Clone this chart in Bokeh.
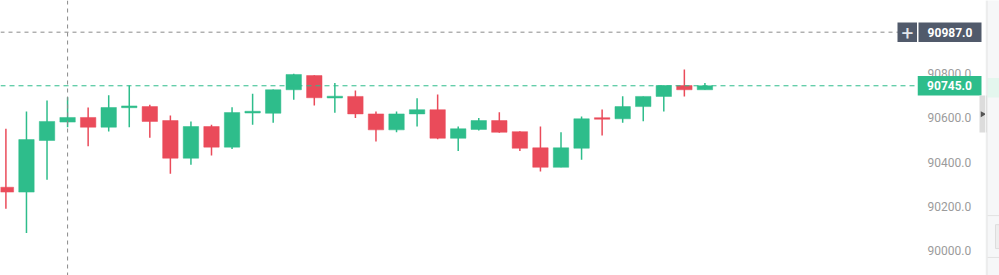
from bokeh.plotting import figure
from bokeh.models import Range1d, Span, Label, BoxAnnotation, ColumnDataSource
from bokeh.core.properties import value
from bokeh.layouts import row
from bokeh.embed import file_html
from bokeh.resources import INLINE

# ---- data ----
opens = [90287, 90265, 90498, 90581, 90602, 90558, 90646, 90651, 90588, 90418,
         90561, 90468, 90622, 90621, 90727, 90791, 90690, 90697, 90618, 90546,
         90618, 90637, 90508, 90548, 90588, 90538, 90465, 90377, 90463, 90601,
         90596, 90651, 90697, 90746, 90727]
highs = [90551, 90629, 90679, 90693, 90647, 90702, 90746, 90659, 90611, 90584,
         90569, 90648, 90709, 90728, 90799, 90793, 90757, 90724, 90629, 90629,
         90689, 90706, 90561, 90599, 90626, 90540, 90561, 90535, 90606, 90638,
         90698, 90697, 90746, 90818, 90757]
lows = [90190, 90080, 90321, 90558, 90472, 90539, 90558, 90510, 90348, 90388,
        90430, 90460, 90569, 90578, 90682, 90656, 90623, 90600, 90493, 90535,
        90561, 90504, 90450, 90543, 90533, 90450, 90358, 90377, 90411, 90521,
        90578, 90585, 90629, 90697, 90727]
closes = [90265, 90502, 90584, 90602, 90558, 90647, 90654, 90584, 90418, 90561,
          90468, 90624, 90630, 90727, 90796, 90691, 90698, 90618, 90546, 90618,
          90637, 90508, 90551, 90588, 90535, 90463, 90377, 90465, 90596, 90594,
          90651, 90697, 90746, 90727, 90745]
tick_values = [90000, 90200, 90400, 90600, 90800]
tick_labels = [f"{t:.1f}" for t in tick_values]
last_price = 90745
cross_price = 90987
cross_index = 3

GREEN = "#2ebd8b"
RED = "#ea4b5a"
SLATE = "#515a6b"
FONT = "Roboto"

idx = list(range(len(opens)))
colors = [GREEN if c >= o else RED for o, c in zip(opens, closes)]
src = ColumnDataSource(dict(
    x=idx,
    top=[max(o, c) for o, c in zip(opens, closes)],
    bottom=[min(o, c) for o, c in zip(opens, closes)],
    high=highs, low=lows, color=colors,
))

y_range = Range1d(89888.5, 91130)


def bare(fig):
    fig.outline_line_color = None
    fig.xgrid.visible = False
    fig.ygrid.visible = False
    fig.min_border_left = 0
    fig.min_border_right = 0
    fig.min_border_top = 0
    fig.min_border_bottom = 0
    return fig


# ---- main candle panel ----
p = bare(figure(width=917, height=275, output_backend="svg", toolbar_location=None,
                x_range=Range1d(-0.263, 44.34), y_range=y_range,
                x_axis_location=None, y_axis_location=None))
p.background_fill_color = "white"
p.border_fill_color = "white"

p.segment(x0="x", y0="low", x1="x", y1="high", color="color", line_width=1.5, source=src)
p.vbar(x="x", width=0.75, top="top", bottom="bottom", fill_color="color",
       line_color="color", line_width=0.5, source=src)

p.add_layout(Span(location=cross_index, dimension="height", line_color="#8a8a8a",
                  line_dash="4 4", line_width=1))
p.add_layout(Span(location=cross_price, dimension="width", line_color="#8a8a8a",
                  line_dash="4 4", line_width=1))
p.add_layout(Span(location=last_price, dimension="width", line_color=GREEN,
                  line_dash="5 4", line_width=1))
p.add_layout(BoxAnnotation(left=897, right=917, left_units="screen", right_units="screen",
                           bottom=cross_price - 44, top=cross_price + 44,
                           fill_color=SLATE, fill_alpha=1, line_color=None))
p.add_layout(Label(x=907, y=cross_price, x_units="screen", y_units="data", text="+",
                   text_color="#e3e6ec", text_font=FONT, text_font_size="21px",
                   text_align="center", text_baseline="middle"))

# ---- price-scale column ----
pa = bare(figure(width=68, height=275, output_backend="svg", toolbar_location=None,
                 x_range=Range1d(0, 68), y_range=y_range,
                 x_axis_location=None, y_axis_location=None))
pa.background_fill_color = "white"
pa.border_fill_color = "white"
pa.text(x=[10] * len(tick_values), y=tick_values, text=tick_labels,
        text_font=value(FONT), text_font_size="12px", text_color="#9b9b9b",
        text_align="left", text_baseline="middle")
pa.rect(x=[32], y=[last_price], width=[64], height=[19.5], height_units="screen",
        fill_color=GREEN, line_color=None)
pa.text(x=[32], y=[last_price], text=[f"{last_price:.1f}"], text_font=value(FONT),
        text_font_size="12px", text_font_style="bold", text_color="white",
        text_align="center", text_baseline="middle")
pa.rect(x=[32.5], y=[cross_price], width=[63], height=[19.5], height_units="screen",
        fill_color=SLATE, line_color=None)
pa.text(x=[32.5], y=[cross_price], text=[f"{cross_price:.1f}"], text_font=value(FONT),
        text_font_size="12px", text_font_style="bold", text_color="white",
        text_align="center", text_baseline="middle")
# scroll handle
pa.quad(left=[62], right=[68], bottom=[90534], top=[90701], fill_color="#dcdcdc", line_color=None)
pa.triangle(x=[65], y=[90617], size=6, angle=-1.5708, fill_color="#555555", line_color=None)

# ---- right side panel ----
side = bare(figure(width=14, height=275, output_backend="svg", toolbar_location=None,
                   x_range=Range1d(0, 14), y_range=y_range,
                   x_axis_location=None, y_axis_location=None))
side.background_fill_color = "#f6f7f8"
side.border_fill_color = "#f6f7f8"
side.quad(left=[0], right=[1.5], bottom=[90534], top=[90701], fill_color="#dcdcdc", line_color=None)
side.quad(left=[2], right=[14], bottom=[90692], top=[90780], fill_color="#e4f6ee", line_color=None)
side.segment(x0=[2], y0=[90159], x1=[14], y1=[90159], line_color="#e2e2e2", line_width=1)
side.segment(x0=[2], y0=[89970], x1=[14], y1=[89970], line_color="#e2e2e2", line_width=1)
side.quad(left=[10], right=[16], bottom=[90010], top=[90118], fill_color="#eeeeee",
          line_color="#dddddd")
side.segment(x0=[1.5], y0=[89888.5], x1=[1.5], y1=[91130], line_color="#e3e3e3", line_width=1)

layout = row(p, pa, side)
open("out.html", "w").write(file_html(layout, INLINE))
